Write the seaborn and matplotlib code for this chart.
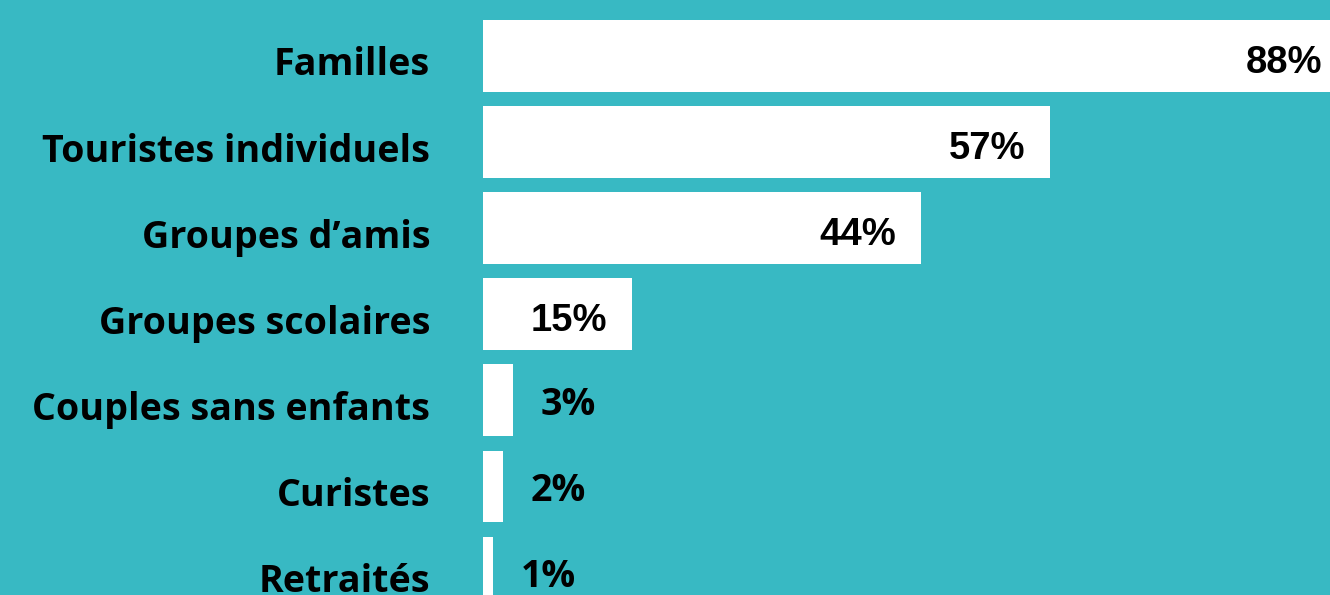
import matplotlib
matplotlib.use("Agg")
import matplotlib.pyplot as plt
import matplotlib.transforms as mtransforms
import seaborn as sns
import pandas as pd

categories = ["Familles", "Touristes individuels", "Groupes d\u2019amis",
              "Groupes scolaires", "Couples sans enfants", "Curistes", "Retraités"]
values = [88, 57, 44, 15, 3, 2, 1]
value_labels = ["88%", "57%", "44%", "15%", "3%", "2%", "1%"]

BG = "#38B9C3"
W, H, DPI = 1330, 595, 100

sns.set_theme(style="white")
plt.rcParams["font.family"] = ["Open Sans", "DejaVu Sans"]

df = pd.DataFrame({"cat": categories, "val": values})

fig = plt.figure(figsize=(W / DPI, H / DPI), dpi=DPI, facecolor=BG)
ax = fig.add_axes([483 / W, 0, 1 - 483 / W, 1])
ax.set_facecolor(BG)

sns.barplot(data=df, y="cat", x="val", orient="h", color="white",
            width=0.836, saturation=1, ax=ax, edgecolor="none")

xmax = 85.1
ax.set_xlim(0, xmax)
ax.set_ylim(6.26, -0.65)

for s in ax.spines.values():
    s.set_visible(False)
ax.set_xticks([])
ax.set_xlabel("")
ax.set_ylabel("")
ax.tick_params(axis="y", length=0, pad=38)
shift = mtransforms.ScaledTranslation(0, -5 / DPI, fig.dpi_scale_trans)
for lbl in ax.get_yticklabels():
    lbl.set_fontsize(27.1)
    lbl.set_fontweight("bold")
    lbl.set_color("black")
    lbl.set_fontfamily(["Open Sans", "DejaVu Sans"])
    lbl.set_transform(lbl.get_transform() + shift)

for i, (v, t) in enumerate(zip(values, value_labels)):
    if v >= 10:
        x = min(v - 2.5, xmax - 0.8)
        ax.text(x, i + 0.08, t, ha="right", va="center", fontsize=27.5,
                fontweight="bold", color="black",
                family=["Liberation Sans", "DejaVu Sans"])
    else:
        ax.text(v + 2.8, i + 0.05, t, ha="left", va="center", fontsize=27,
                fontweight="bold", color="black",
                family=["Open Sans", "DejaVu Sans"])

fig.savefig("out.png", dpi=DPI, facecolor=BG)
